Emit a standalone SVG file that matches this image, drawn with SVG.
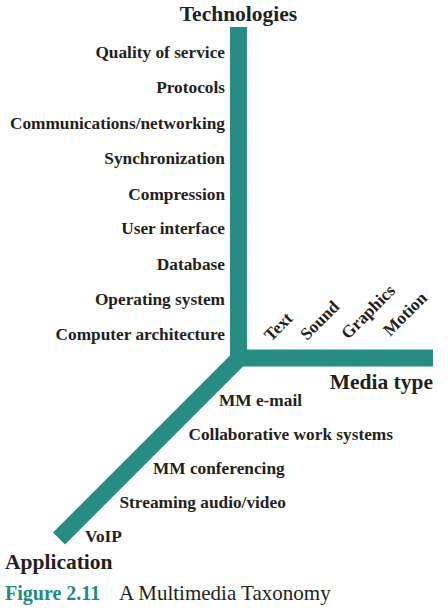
<svg xmlns="http://www.w3.org/2000/svg" width="448" height="611" viewBox="0 0 448 611">
<style>
text{font-family:"Liberation Serif","Times New Roman",serif;fill:#231f20}
.b{font-weight:bold;font-size:17.3px}
.t{font-weight:bold;font-size:21.5px}
.r{text-anchor:end}
.cap{font-size:21px}
.fig{font-weight:bold;font-size:20px;fill:#1f8a82}
</style>
<rect width="448" height="611" fill="#ffffff"/>
<g id="axes">
<polygon fill="#268c84" points="230,27 247,27 247,349.5 433,349.5 433,366.5 243,366.5 65,544.5 53,532.5 230,355.5"/>
</g>
<g id="technologies">
<text class="t" x="238.5" y="20.5" text-anchor="middle">Technologies</text>
<text class="b r" x="225" y="58">Quality of service</text>
<text class="b r" x="225" y="93">Protocols</text>
<text class="b r" x="225" y="129">Communications/networking</text>
<text class="b r" x="225" y="164">Synchronization</text>
<text class="b r" x="225" y="200">Compression</text>
<text class="b r" x="225" y="234">User interface</text>
<text class="b r" x="225" y="270">Database</text>
<text class="b r" x="225" y="305">Operating system</text>
<text class="b r" x="225" y="340">Computer architecture</text>
</g>
<g id="media-type">
<text class="t r" x="433" y="388.5">Media type</text>
<text class="b" transform="translate(271,342) rotate(-45)">Text</text>
<text class="b" transform="translate(307,341) rotate(-45)">Sound</text>
<text class="b" transform="translate(348,340) rotate(-45)">Graphics</text>
<text class="b" transform="translate(390,337) rotate(-45)">Motion</text>
</g>
<g id="application">
<text class="b" x="219" y="406">MM e-mail</text>
<text class="b" x="188.5" y="440">Collaborative work systems</text>
<text class="b" x="153" y="473.5">MM conferencing</text>
<text class="b" x="119.5" y="507.5">Streaming audio/video</text>
<text class="b" x="85" y="542">VoIP</text>
<text class="t" x="5" y="568.5">Application</text>
</g>
<g id="caption">
<text class="fig" x="5" y="599.5">Figure 2.11</text>
<text class="cap" x="119" y="599.5">A Multimedia Taxonomy</text>
</g>
</svg>
